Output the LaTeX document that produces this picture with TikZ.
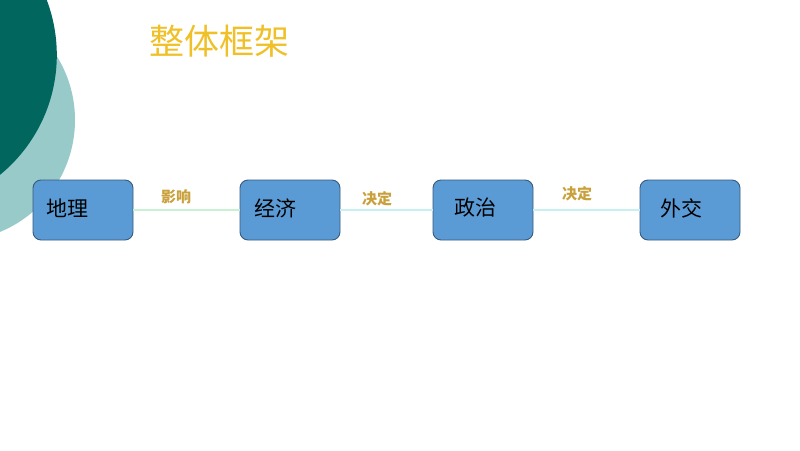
\documentclass[tikz,border=0pt]{standalone}
\usepackage{fontspec}
\newfontfamily\cjk{Noto Sans CJK SC}
\definecolor{darkteal}{RGB}{0,102,94}
\definecolor{lightteal}{RGB}{152,202,202}
\definecolor{titlegold}{RGB}{240,192,40}
\definecolor{labelgold}{RGB}{200,160,60}
\definecolor{boxfill}{RGB}{91,155,213}
\definecolor{boxdraw}{RGB}{55,90,125}
\definecolor{linegreen}{RGB}{200,240,210}
\definecolor{linecyan}{RGB}{200,240,240}
\tikzset{
  stagebox/.style={draw=boxdraw, line width=0.9pt, fill=boxfill, rounded corners=8pt,
    minimum width=100pt, minimum height=60pt, inner sep=0pt},
  stagetext/.style={anchor=west, font=\cjk\fontsize{21}{21}\selectfont, text=black, inner sep=0pt},
  linkline/.style={line width=1.2pt},
  linklabel/.style={font=\cjk\bfseries\fontsize{15}{15}\selectfont, text=labelgold, inner sep=0pt}
}
\begin{document}
\begin{tikzpicture}[x=1pt,y=-1pt]
\useasboundingbox (0,0) rectangle (800,450);
\begin{scope}
\clip (0,0) rectangle (800,450);
\fill[lightteal] (-46,120) circle (121);
\fill[darkteal] (-98,55) circle (154.8);
\end{scope}
\node[font=\cjk\fontsize{35}{35}\selectfont, text=titlegold, inner sep=0pt] (title) at (219,41) {整体框架};
\node[stagebox] (b1) at (83,210) {};
\node[stagebox] (b2) at (290,210) {};
\node[stagebox] (b3) at (483,210) {};
\node[stagebox] (b4) at (690,210) {};
\node[stagetext] (t1) at ([xshift=14pt,yshift=2pt]b1.west) {地理};
\node[stagetext] (t2) at ([xshift=15pt,yshift=2pt]b2.west) {经济};
\node[stagetext] (t3) at ([xshift=22pt,yshift=2pt]b3.west) {政治};
\node[stagetext] (t4) at ([xshift=21pt,yshift=2pt]b4.west) {外交};
\draw[linkline, linegreen] (b1.east) -- (b2.west);
\draw[linkline, linecyan] (b2.east) -- (b3.west);
\draw[linkline, linecyan] (b3.east) -- (b4.west);
\node[linklabel] (l1) at (176,197) {影响};
\node[linklabel] (l2) at (377,199) {决定};
\node[linklabel] (l3) at (577,194) {决定};
\end{tikzpicture}
\end{document}
